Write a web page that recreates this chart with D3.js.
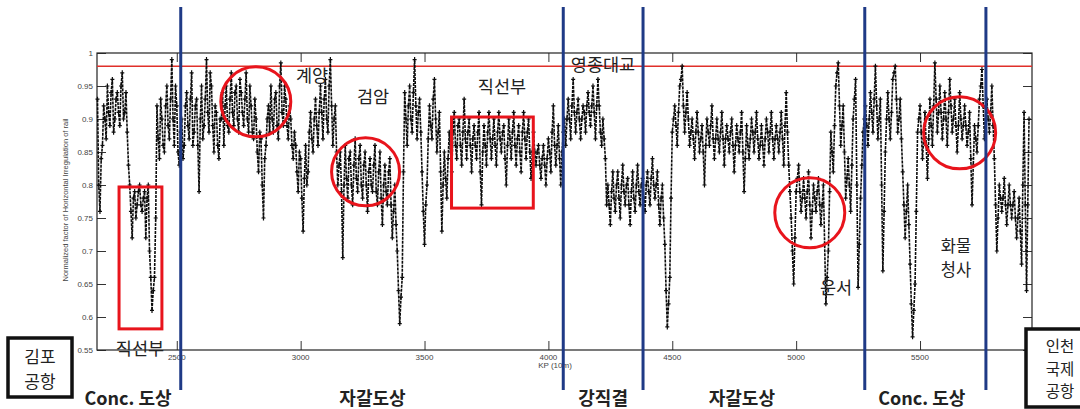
<!DOCTYPE html>
<html><head><meta charset="utf-8">
<script src="https://cdn.jsdelivr.net/npm/d3@7"></script>
<style>body{margin:0;background:#fff} svg{display:block}</style>
</head><body>
<svg id="chart" width="1080" height="409"></svg>
<script>
// Normalized horizontal irregularity of rail along the line (KP in units of 10 m)
// Samples every 10 KP from kpStart, plus half-step samples in between.
const kpStart = 2180, kpStep = 10;
const irregularity = [
  0.93,0.76,0.86,0.90,0.95,0.89,0.96,0.90,0.94,0.89,
  0.97,0.91,0.88,0.80,0.72,0.79,0.77,0.80,0.76,0.79,
  0.78,0.70,0.61,0.66,0.92,0.84,0.90,0.85,0.95,0.87,
  0.99,0.86,0.92,0.83,0.90,0.86,0.94,0.87,0.97,0.88,
  0.93,0.79,0.95,0.89,0.99,0.88,0.95,0.85,0.91,0.84,
  0.90,0.86,0.95,0.88,0.97,0.89,0.95,0.88,0.94,0.89,
  0.97,0.88,0.92,0.87,0.90,0.82,0.87,0.75,0.86,0.92,
  0.95,0.88,0.94,0.87,0.985,0.89,0.93,0.87,0.90,0.84,
  0.86,0.79,0.84,0.73,0.86,0.82,0.91,0.85,0.93,0.86,
  0.95,0.87,0.96,0.88,0.99,0.86,0.92,0.80,0.85,0.69,
  0.86,0.78,0.85,0.77,0.87,0.79,0.86,0.78,0.85,0.76,
  0.84,0.79,0.86,0.77,0.85,0.74,0.83,0.77,0.84,0.72,
  0.80,0.70,0.59,0.66,0.94,0.86,0.95,0.88,0.99,0.87,
  0.93,0.82,0.71,0.80,0.92,0.87,0.96,0.85,0.91,0.73,
  0.85,0.78,0.88,0.82,0.91,0.84,0.90,0.83,0.93,0.84,
  0.90,0.82,0.89,0.84,0.91,0.77,0.89,0.83,0.91,0.84,
  0.90,0.83,0.91,0.85,0.89,0.80,0.90,0.84,0.91,0.83,
  0.89,0.82,0.91,0.84,0.90,0.81,0.88,0.83,0.86,0.81,
  0.86,0.80,0.87,0.82,0.92,0.83,0.89,0.80,0.88,0.86,
  0.93,0.87,0.96,0.88,0.93,0.87,0.92,0.88,0.94,0.89,
  0.95,0.87,0.96,0.88,0.90,0.84,0.80,0.74,0.82,0.76,
  0.82,0.75,0.83,0.77,0.81,0.74,0.82,0.76,0.83,0.77,
  0.81,0.76,0.82,0.77,0.84,0.78,0.82,0.74,0.80,0.71,
  0.585,0.66,0.88,0.92,0.86,0.95,0.98,0.88,0.94,0.86,
  0.90,0.84,0.91,0.85,0.89,0.80,0.90,0.86,0.92,0.84,
  0.90,0.85,0.91,0.83,0.89,0.85,0.90,0.82,0.89,0.85,
  0.91,0.79,0.89,0.84,0.90,0.85,0.91,0.84,0.89,0.83,
  0.90,0.85,0.91,0.84,0.89,0.85,0.91,0.83,0.94,0.83,
  0.75,0.65,0.79,0.83,0.76,0.81,0.75,0.82,0.72,0.80,
  0.76,0.81,0.74,0.80,0.62,0.70,0.88,0.82,0.95,0.985,
  0.86,0.92,0.78,0.84,0.76,0.90,0.96,0.645,0.78,0.88,
  0.92,0.86,0.94,0.88,0.98,0.87,0.93,0.67,0.85,0.94,
  0.87,0.96,0.98,0.88,0.93,0.82,0.72,0.80,0.68,0.57,
  0.65,0.88,0.92,0.84,0.91,0.81,0.93,0.86,0.985,0.88,
  0.95,0.87,0.94,0.86,0.96,0.88,0.93,0.85,0.94,0.87,
  0.92,0.86,0.91,0.77,0.89,0.85,0.93,0.975,0.87,0.93,
  0.88,0.95,0.84,0.70,0.80,0.76,0.81,0.74,0.80,0.75,
  0.79,0.72,0.78,0.68,0.91,0.64,0.90
];
const irregularityHalfStep = [
  0.80,0.84,0.92,0.87,0.91,0.94,0.88,0.93,0.91,0.95,
  0.90,0.94,0.83,0.76,0.78,0.75,0.79,0.77,0.78,0.72,
  0.80,0.66,0.64,0.75,0.87,0.93,0.86,0.92,0.89,0.93,
  0.90,0.95,0.85,0.88,0.84,0.92,0.89,0.93,0.86,0.92,
  0.86,0.90,0.87,0.93,0.91,0.97,0.89,0.92,0.86,0.90,
  0.94,0.92,0.89,0.93,0.91,0.94,0.90,0.96,0.91,0.93,
  0.90,0.95,0.88,0.93,0.85,0.88,0.80,0.84,0.90,0.88,
  0.90,0.93,0.89,0.95,0.91,0.95,0.89,0.92,0.86,0.88,
  0.82,0.85,0.78,0.81,0.80,0.88,0.87,0.90,0.89,0.91,
  0.91,0.93,0.90,0.95,0.92,0.90,0.85,0.83,0.79,0.80,
  0.81,0.84,0.80,0.83,0.81,0.84,0.80,0.83,0.80,0.82,
  0.80,0.83,0.79,0.82,0.78,0.80,0.79,0.82,0.77,0.76,
  0.74,0.64,0.63,0.82,0.90,0.92,0.90,0.94,0.92,0.91,
  0.88,0.76,0.77,0.87,0.89,0.93,0.90,0.88,0.82,0.80,
  0.81,0.84,0.85,0.88,0.86,0.89,0.86,0.88,0.87,0.88,
  0.86,0.87,0.86,0.88,0.82,0.85,0.86,0.88,0.87,0.87,
  0.86,0.88,0.87,0.88,0.84,0.86,0.87,0.88,0.86,0.87,
  0.85,0.88,0.87,0.88,0.85,0.85,0.85,0.85,0.83,0.84,
  0.83,0.84,0.85,0.88,0.86,0.86,0.84,0.85,0.90,0.90,
  0.90,0.92,0.91,0.91,0.90,0.90,0.91,0.92,0.91,0.92,
  0.91,0.92,0.92,0.86,0.87,0.77,0.77,0.79,0.78,0.80,
  0.78,0.80,0.79,0.80,0.77,0.79,0.78,0.80,0.79,0.80,
  0.78,0.80,0.79,0.81,0.80,0.80,0.77,0.78,0.75,0.64,
  0.62,0.78,0.90,0.89,0.91,0.96,0.92,0.91,0.90,0.88,
  0.87,0.88,0.88,0.87,0.85,0.86,0.88,0.89,0.87,0.87,
  0.87,0.88,0.87,0.87,0.87,0.88,0.86,0.86,0.87,0.88,
  0.85,0.84,0.86,0.87,0.88,0.88,0.87,0.86,0.86,0.87,
  0.88,0.88,0.87,0.87,0.87,0.88,0.87,0.89,0.88,0.79,
  0.70,0.72,0.81,0.79,0.78,0.78,0.79,0.77,0.76,0.78,
  0.79,0.77,0.77,0.71,0.66,0.79,0.85,0.89,0.97,0.92,
  0.89,0.85,0.81,0.80,0.83,0.93,0.80,0.71,0.83,0.90,
  0.89,0.90,0.91,0.93,0.92,0.90,0.80,0.76,0.90,0.90,
  0.91,0.97,0.93,0.90,0.87,0.77,0.76,0.74,0.62,0.61,
  0.76,0.90,0.88,0.87,0.86,0.87,0.89,0.92,0.93,0.91,
  0.91,0.90,0.90,0.91,0.92,0.90,0.89,0.89,0.90,0.89,
  0.89,0.88,0.84,0.83,0.87,0.89,0.95,0.92,0.90,0.90,
  0.91,0.89,0.77,0.75,0.78,0.78,0.77,0.77,0.77,0.77,
  0.75,0.75,0.73,0.80,0.77,0.77
];
const xTicks = [2500, 3000, 3500, 4000, 4500, 5000, 5500];
const yTicks = [0.55, 0.6, 0.65, 0.7, 0.75, 0.8, 0.85, 0.9, 0.95, 1];
const yTickLabels = ["0.55", "0.6", "0.65", "0.7", "0.75", "0.8", "0.85", "0.9", "0.95", "1"];
const threshold = 0.98;

// Track-bed section boundaries and names
const sectionBounds = [2516, 4060, 4382, 5277, 5766];
const sectionNames = ["Conc. 도상", "자갈도상", "강직결", "자갈도상", "Conc. 도상"];
const sectionCenters = [2303, 3290, 4221, 4781, 5507];

// Highlighted zones: circles (KP, value) and boxes (KP from, KP to, value low, value high)
const circleCenters = [[2819, 0.926], [3262, 0.820], [5055, 0.758], [5660, 0.879]];
const boxRanges = [[2267, 2440, 0.582, 0.797], [3609, 3939, 0.765, 0.903]];

// Place names written on the chart
const placeNames = ["계양", "검암", "직선부", "영종대교", "직선부", "운서", "화물|청사"];
const terminalNames = ["김포|공항", "인천|국제|공항"];

const svg = d3.select("#chart");
const m = {left: 97, right: 1032, top: 53, bottom: 350};

const x = d3.scaleLinear().domain([2178, 5952]).range([m.left, m.right]);
const y = d3.scaleLinear().domain([0.55, 1]).range([m.bottom, m.top]);

const series = [];
irregularity.forEach((v, i) => {
  series.push({kp: kpStart + i * kpStep, v});
  if (i < irregularityHalfStep.length) series.push({kp: kpStart + i * kpStep + kpStep / 2, v: irregularityHalfStep[i]});
});

// Axes (box style with inward ticks)
const tickLen = 9;
const axisColor = "#333";
const tickFont = "'Liberation Sans', Arial, sans-serif";

svg.append("g").attr("transform", `translate(0,${m.bottom})`)
  .call(d3.axisTop(x).tickValues(xTicks).tickSize(tickLen).tickFormat(""))
  .call(g => g.select(".domain").remove());
svg.append("g").attr("transform", `translate(0,${m.top})`)
  .call(d3.axisBottom(x).tickValues(xTicks).tickSize(tickLen).tickFormat(""))
  .call(g => g.select(".domain").remove());
svg.append("g").attr("transform", `translate(${m.left},0)`)
  .call(d3.axisRight(y).tickValues(yTicks).tickSize(tickLen).tickFormat(""))
  .call(g => g.select(".domain").remove());
svg.append("g").attr("transform", `translate(${m.right},0)`)
  .call(d3.axisLeft(y).tickValues(yTicks).tickSize(tickLen).tickFormat(""))
  .call(g => g.select(".domain").remove());
svg.selectAll(".tick line").attr("stroke", axisColor).attr("stroke-width", 1);

svg.append("rect")
  .attr("x", m.left).attr("y", m.top)
  .attr("width", m.right - m.left).attr("height", m.bottom - m.top)
  .attr("fill", "none").attr("stroke", "#222").attr("stroke-width", 1.2);

// Tick labels
svg.append("g").selectAll("text").data(xTicks).join("text")
  .attr("x", d => x(d)).attr("y", m.bottom + 10)
  .attr("text-anchor", "middle")
  .attr("font-family", tickFont).attr("font-size", 8).attr("fill", "#444")
  .text(d => d);
svg.append("g").selectAll("text").data(yTicks).join("text")
  .attr("x", m.left - 4).attr("y", d => y(d) + 3)
  .attr("text-anchor", "end")
  .attr("font-family", tickFont).attr("font-size", 8).attr("fill", "#444")
  .text((d, i) => yTickLabels[i]);

svg.append("text")
  .attr("x", 555).attr("y", 368).attr("text-anchor", "middle")
  .attr("font-family", tickFont).attr("font-size", 8).attr("fill", "#444")
  .text("KP (10m)");
svg.append("text")
  .attr("transform", "translate(68,200) rotate(-90)")
  .attr("text-anchor", "middle")
  .attr("font-family", tickFont).attr("font-size", 7.5).attr("fill", "#444")
  .text("Normalized factor of Horizontal Irregulation of rail");

// Threshold line
svg.append("line")
  .attr("x1", m.left).attr("x2", m.right)
  .attr("y1", y(threshold)).attr("y2", y(threshold))
  .attr("stroke", "#e0302a").attr("stroke-width", 1.5);

// Irregularity trace: dashed line with plus markers
const plot = svg.append("g");
plot.append("path")
  .datum(series)
  .attr("d", d3.line().x(d => x(d.kp)).y(d => y(d.v)))
  .attr("fill", "none").attr("stroke", "#0c0c0c")
  .attr("stroke-width", 1.6).attr("stroke-dasharray", "3,1");
plot.append("g").selectAll("path").data(series).join("path")
  .attr("transform", d => `translate(${x(d.kp)},${y(d.v)})`)
  .attr("d", "M-2,0H2M0,-2.5V2.5")
  .attr("stroke", "#0c0c0c").attr("stroke-width", 1.2);

// Highlight circles and boxes
const red = "#e8141c";
svg.append("g").selectAll("circle").data(circleCenters).join("circle")
  .attr("cx", d => x(d[0])).attr("cy", d => y(d[1]))
  .attr("r", (d, i) => [35, 34, 35, 36][i])
  .attr("fill", "none").attr("stroke", red).attr("stroke-width", 3);
svg.append("g").selectAll("rect").data(boxRanges).join("rect")
  .attr("x", d => x(d[0])).attr("y", d => y(d[3]))
  .attr("width", d => x(d[1]) - x(d[0])).attr("height", d => y(d[2]) - y(d[3]))
  .attr("fill", "none").attr("stroke", red).attr("stroke-width", 3);

// Section boundaries
svg.append("g").selectAll("line").data(sectionBounds).join("line")
  .attr("x1", d => x(d)).attr("x2", d => x(d))
  .attr("y1", 7).attr("y2", 390)
  .attr("stroke", "#1f3a86").attr("stroke-width", 3);

const krFont = "'Noto Sans CJK KR', 'Noto Sans', sans-serif";

// Section names under the axis
svg.append("g").selectAll("text").data(sectionNames).join("text")
  .attr("x", (d, i) => x(sectionCenters[i])).attr("y", 397)
  .attr("text-anchor", "middle").attr("dominant-baseline", "central")
  .attr("font-family", krFont).attr("font-size", 18).attr("font-weight", 700)
  .attr("fill", "#222")
  .text(d => d);

// Multi-line label helper: one text element per line
function stackedLabel(lines, cx, cy, size, gap) {
  lines.forEach((ln, k) => svg.append("text")
    .attr("x", cx).attr("y", cy + k * gap)
    .attr("text-anchor", "middle").attr("dominant-baseline", "central")
    .attr("font-family", krFont).attr("font-size", size).attr("fill", "#222")
    .text(ln));
}

// Place labels
const placePos = [[312, 74], [373, 95], [502, 85], [603, 63], [140, 347], [836, 286], [956, 245]];
placeNames.forEach((name, i) => {
  const lines = name.split("|");
  stackedLabel(lines, placePos[i][0], placePos[i][1], lines.length > 1 ? 16.5 : 17.5, 24);
});

// Terminal boxes
const termBoxes = [
  {x: 8, y: 338, w: 64, h: 59, cx: 40, cy: 355, size: 17, gap: 25},
  {x: 1026, y: 329, w: 60, h: 78, cx: 1060, cy: 345, size: 15.5, gap: 22.5}
];
terminalNames.forEach((name, i) => {
  const b = termBoxes[i];
  svg.append("rect").attr("x", b.x).attr("y", b.y).attr("width", b.w).attr("height", b.h)
    .attr("fill", "#fff").attr("stroke", "#111").attr("stroke-width", 3.5);
  stackedLabel(name.split("|"), b.cx, b.cy, b.size, b.gap);
});
</script>
</body></html>
